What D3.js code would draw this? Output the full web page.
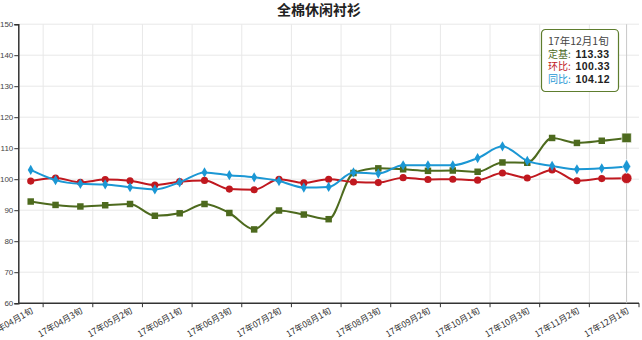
<!DOCTYPE html>
<html>
<head>
<meta charset="utf-8">
<script src="https://cdn.jsdelivr.net/npm/d3@7"></script>
<style>
  html, body { margin: 0; padding: 0; background: #fff; }
  svg { display: block; }
  text { font-family: "Liberation Sans", Arial, "Noto Sans CJK SC", sans-serif; }
</style>
</head>
<body>
<svg id="chart" width="642" height="340"></svg>
<script>
// Ten-day periods (旬) from April to early December 2017
const categories = [
  "17年04月1旬","17年04月2旬","17年04月3旬",
  "17年05月1旬","17年05月2旬","17年05月3旬",
  "17年06月1旬","17年06月2旬","17年06月3旬",
  "17年07月1旬","17年07月2旬","17年07月3旬",
  "17年08月1旬","17年08月2旬","17年08月3旬",
  "17年09月1旬","17年09月2旬","17年09月3旬",
  "17年10月1旬","17年10月2旬","17年10月3旬",
  "17年11月1旬","17年11月2旬","17年11月3旬",
  "17年12月1旬"
];

// 定基 (fixed-base index)
const dingji = [92.8, 91.7, 91.2, 91.6, 92.0, 88.2, 89.0, 92.0, 89.1, 83.8, 89.9, 88.6, 87.1,
                102.0, 103.5, 103.2, 102.7, 102.8, 102.4, 105.4, 105.3, 113.3, 111.7, 112.4, 113.33];
// 环比 (period-on-period)
const huanbi = [99.4, 100.4, 99.0, 99.9, 99.5, 98.1, 99.2, 99.6, 96.8, 96.6, 100.0, 98.8, 100.0,
                99.1, 98.9, 100.5, 99.9, 100.0, 99.7, 102.0, 100.4, 103.0, 99.5, 100.2, 100.33];
// 同比 (year-on-year)
const tongbi = [103.0, 99.7, 98.5, 98.3, 97.4, 96.7, 99.0, 102.2, 101.3, 100.6, 99.4, 97.3, 97.5,
                102.2, 101.8, 104.5, 104.5, 104.5, 106.8, 110.6, 105.9, 104.3, 103.2, 103.5, 104.12];

const yTicks = [60, 70, 80, 90, 100, 110, 120, 130, 140, 150];
const seriesNames = ["定基", "环比", "同比"];
const chartTitle = "全棉休闲衬衫";

const svg = d3.select("#chart");
const plotLeft = 18.3, plotRight = 639, plotTop = 24.2, plotBottom = 303.2;

const x = d3.scaleBand().domain(d3.range(categories.length)).range([plotLeft, plotRight]).paddingInner(0).paddingOuter(0);
const cx = i => x(i) + x.bandwidth() / 2;
const y = d3.scaleLinear().domain([60, 150]).range([plotBottom, plotTop]);

// Title
svg.append("text")
  .attr("x", 319).attr("y", 15)
  .attr("text-anchor", "middle")
  .attr("font-size", 14).attr("font-weight", "bold")
  .attr("fill", "#222")
  .style("font-family", "'Noto Sans CJK SC', sans-serif")
  .text(chartTitle);

// Grid: horizontal at y ticks, vertical at every other band boundary
const tickBounds = d3.range(1, categories.length + 1, 2).map(k => plotLeft + k * x.bandwidth());
const grid = svg.append("g");
grid.selectAll("line.h").data(yTicks.filter(v => v > 60)).join("line")
  .attr("x1", plotLeft).attr("x2", plotRight)
  .attr("y1", d => y(d)).attr("y2", d => y(d))
  .attr("stroke", "#e8e8e8").attr("stroke-width", 1);
grid.selectAll("line.v").data(tickBounds.filter(b => b < plotRight - 1)).join("line")
  .attr("x1", d => d).attr("x2", d => d)
  .attr("y1", plotTop).attr("y2", plotBottom)
  .attr("stroke", "#e8e8e8").attr("stroke-width", 1);

// Y axis
const yAxis = d3.axisLeft(y).tickValues(yTicks).tickSize(4).tickPadding(1);
const gy = svg.append("g").attr("transform", `translate(${plotLeft},0)`).call(yAxis);
gy.select(".domain").attr("stroke", "#333").attr("stroke-width", 1.5);
gy.selectAll(".tick line").attr("stroke", "#333");
gy.selectAll(".tick text").attr("font-size", 8).attr("fill", "#444")
  .style("font-family", "'Liberation Sans', Arial, sans-serif");

// X axis: ticks at band boundaries, labels under every other category
const xAxisG = svg.append("g");
xAxisG.append("line").attr("x1", plotLeft).attr("x2", plotRight).attr("y1", plotBottom).attr("y2", plotBottom)
  .attr("stroke", "#333").attr("stroke-width", 1.5);
xAxisG.selectAll("line.t").data(tickBounds).join("line")
  .attr("x1", d => d).attr("x2", d => d).attr("y1", plotBottom).attr("y2", plotBottom + 4)
  .attr("stroke", "#333");
xAxisG.selectAll("text").data(d3.range(0, categories.length, 2)).join("text")
  .attr("transform", i => `translate(${cx(i) + 1},${plotBottom + 6}) rotate(-30)`)
  .attr("text-anchor", "end")
  .attr("dy", "0.45em")
  .attr("font-size", 8.6).attr("fill", "#333")
  .style("font-family", "'Noto Sans CJK SC', sans-serif")
  .text(i => categories[i]);

// Crosshair at the highlighted (last) period
const hi = categories.length - 1;
svg.append("line").attr("x1", cx(hi)).attr("x2", cx(hi)).attr("y1", plotTop).attr("y2", plotBottom)
  .attr("stroke", "#c8c8c8").attr("stroke-width", 1);

const colors = { green: "#4d6a1e", red: "#c0181f", blue: "#1b97d4" };
const line = d3.line().x((d, i) => cx(i)).y(d => y(d)).curve(d3.curveMonotoneX);

function drawSeries(values, color, shape, size, bigSize) {
  const g = svg.append("g");
  g.append("path").datum(values).attr("d", line)
    .attr("fill", "none").attr("stroke", color).attr("stroke-width", 2);
  g.selectAll("path.m").data(values).join("path")
    .attr("transform", (d, i) => `translate(${cx(i)},${y(d)})`)
    .attr("d", (d, i) => d3.symbol().type(shape).size(i === hi ? bigSize : size)())
    .attr("fill", color)
    .attr("stroke", (d, i) => i === hi ? "rgba(255,255,255,0.6)" : "none")
    .attr("stroke-width", 1);
}

drawSeries(dingji, colors.green, d3.symbolSquare, 42, 90);
drawSeries(huanbi, colors.red, d3.symbolCircle, 40, 90);
drawSeries(tongbi, colors.blue, d3.symbolDiamond, 30, 60);

// Tooltip for the last period
const tip = svg.append("g").attr("transform", "translate(541.5,29.5)");
tip.append("rect").attr("width", 77).attr("height", 62).attr("rx", 4)
  .attr("fill", "#fff").attr("stroke", "#5e7d2e").attr("stroke-width", 1.2);
tip.append("text").attr("x", 6.5).attr("y", 15).attr("font-size", 10.5).attr("fill", "#444")
  .style("font-family", "'Noto Sans CJK SC', sans-serif").text(categories[hi]);
const rows = [
  [seriesNames[0], dingji[hi], colors.green],
  [seriesNames[1], huanbi[hi], colors.red],
  [seriesNames[2], tongbi[hi], colors.blue]
];
rows.forEach((r, k) => {
  const yy = 28 + k * 12.6;
  tip.append("text").attr("x", 6.5).attr("y", yy).attr("font-size", 10).attr("fill", r[2])
    .style("font-family", "'Noto Sans CJK SC', sans-serif").text(r[0] + ":");
  tip.append("text").attr("x", 34).attr("y", yy).attr("fill", "#222").attr("font-weight", "bold")
    .attr("font-size", 10.5).attr("letter-spacing", 0.4).text(r[1].toFixed(2));
});
</script>
</body>
</html>
